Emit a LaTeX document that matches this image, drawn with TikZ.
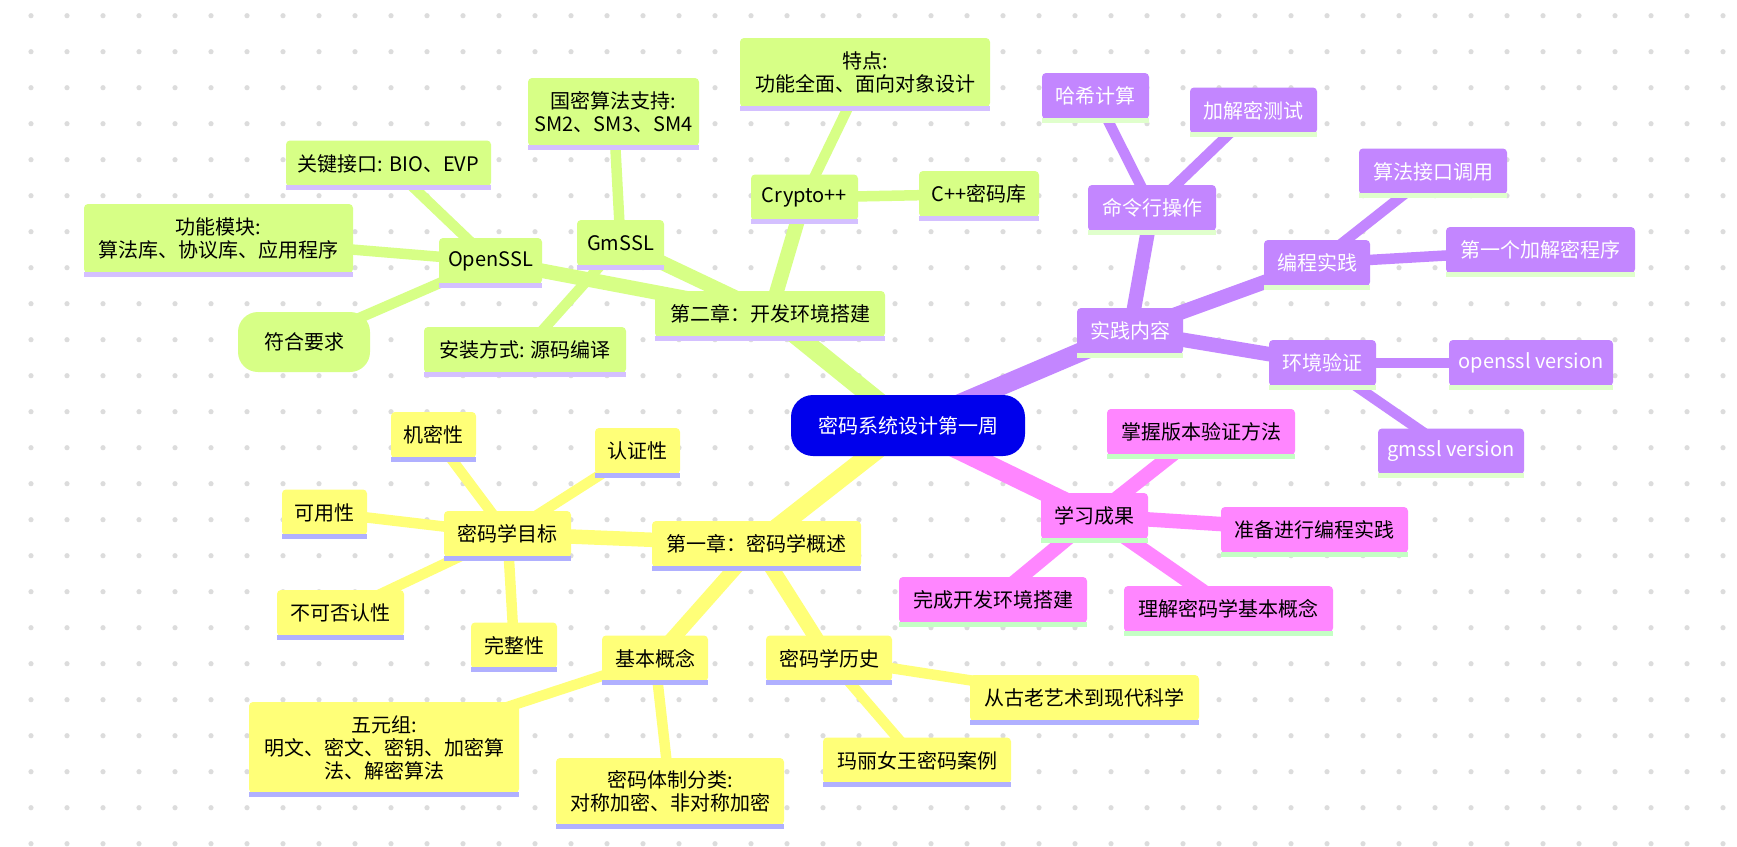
\documentclass[tikz,border=0pt]{standalone}
\usepackage{fontspec}
\newfontfamily\cjk{Noto Sans CJK SC}
\definecolor{cgreen}{HTML}{D7FF86}
\definecolor{cyellow}{HTML}{FFFF78}
\definecolor{cpurple}{HTML}{C386FF}
\definecolor{cpink}{HTML}{FF86FF}
\definecolor{cblue}{HTML}{0000EC}
\definecolor{ulgreen}{HTML}{D4C0FF}
\definecolor{ulyellow}{HTML}{B0B0FF}
\definecolor{ulpurple}{HTML}{E0FFCC}
\definecolor{ulpink}{HTML}{C4FFC4}
\definecolor{dotc}{HTML}{DCDCDC}
\pgfdeclarelayer{grid}
\pgfdeclarelayer{bg}
\pgfsetlayers{grid,bg,main}
\tikzset{
  mm/.style={rectangle, rounded corners=4pt, inner xsep=6pt, inner ysep=0pt,
    minimum height=46pt, align=center, font=\cjk\fontsize{20}{23}\selectfont},
  gn/.style={mm, fill=cgreen, text=black},
  yn/.style={mm, fill=cyellow, text=black},
  pn/.style={mm, fill=cpurple, text=white},
  kn/.style={mm, fill=cpink, text=black},
  rootnode/.style={mm, fill=cblue, text=white, rounded corners=22pt, minimum height=61pt},
  e0/.style={line width=19pt},
  e1/.style={line width=14.5pt},
  e2/.style={line width=10.5pt},
}
\newcommand{\ul}[2]{\fill[#2] ([yshift=1.5pt]#1.south west) rectangle ([yshift=-3.7pt]#1.south east);}
\begin{document}
\begin{tikzpicture}[x=1pt,y=-1pt]
\useasboundingbox (0,0) rectangle (1737,846);
\begin{pgfonlayer}{grid}
  \fill[white] (0,0) rectangle (1737,846);
  \foreach \i in {0,...,47} {
    \foreach \j in {0,...,23} {
      \fill[dotc] ({31+36*\i},{15.7+36*\j}) circle[radius=2.6pt];
    }
  }
\end{pgfonlayer}

% root
\node[rootnode, minimum width=234pt] (root) at (908,425.5) {密码系统设计第一周};

% chapter 2 (green)
\node[gn, minimum width=230pt] (ch2) at (770,314) {第二章：开发环境搭建};
\node[gn, minimum width=103pt] (ossl) at (490.5,261) {OpenSSL};
\node[gn, minimum width=87pt] (gmssl) at (620.5,243) {GmSSL};
\node[gn, minimum width=107pt] (cpp) at (804.5,197.5) {Crypto++};
\node[gn, minimum width=205pt] (key) at (388.5,163.5) {关键接口: BIO、EVP};
\node[gn, minimum width=269pt, minimum height=69pt] (func) at (218.5,238.5) {功能模块:\\算法库、协议库、应用程序};
\node[gn, minimum width=132pt, minimum height=60pt, rounded corners=20pt] (fit) at (304,342) {符合要求};
\node[gn, minimum width=171pt, minimum height=68pt] (gm) at (613.5,112) {国密算法支持:\\SM2、SM3、SM4};
\node[gn, minimum width=202pt] (inst) at (525,350) {安装方式: 源码编译};
\node[gn, minimum width=250pt, minimum height=69pt] (feat) at (865,72.5) {特点:\\功能全面、面向对象设计};
\node[gn, minimum width=120pt] (cpplib) at (979,194) {C++密码库};

% practice (purple)
\node[pn, minimum width=106pt] (prac) at (1130,331) {实践内容};
\node[pn, minimum width=128pt] (cli) at (1152,208) {命令行操作};
\node[pn, minimum width=107pt] (hash) at (1095.5,96) {哈希计算};
\node[pn, minimum width=127pt] (enct) at (1253.5,110.5) {加解密测试};
\node[pn, minimum width=106pt] (prog) at (1317,263) {编程实践};
\node[pn, minimum width=148pt] (api) at (1433,171.5) {算法接口调用};
\node[pn, minimum width=189pt] (first) at (1540.5,250) {第一个加解密程序};
\node[pn, minimum width=107pt] (env) at (1322.5,363) {环境验证};
\node[pn, minimum width=164pt] (osv) at (1531,363) {openssl version};
\node[pn, minimum width=146pt] (gsv) at (1451,451.5) {gmssl version};

% outcomes (pink)
\node[kn, minimum width=107pt] (learn) at (1094.5,516) {学习成果};
\node[kn, minimum width=188pt] (ver) at (1201,432) {掌握版本验证方法};
\node[kn, minimum width=187pt] (ready) at (1314.5,530) {准备进行编程实践};
\node[kn, minimum width=188pt] (done) at (993,600) {完成开发环境搭建};
\node[kn, minimum width=209pt] (under) at (1228.5,609) {理解密码学基本概念};

% chapter 1 (yellow)
\node[yn, minimum width=209pt] (ch1) at (756.5,544) {第一章：密码学概述};
\node[yn, minimum width=127pt] (goal) at (507.5,534) {密码学目标};
\node[yn, minimum width=85pt] (conf) at (433.5,435) {机密性};
\node[yn, minimum width=85pt] (auth) at (637.5,451) {认证性};
\node[yn, minimum width=85pt] (avail) at (324.5,512.5) {可用性};
\node[yn, minimum width=127pt] (nonrep) at (340.5,613) {不可否认性};
\node[yn, minimum width=86pt] (integ) at (514,645.5) {完整性};
\node[yn, minimum width=106pt] (basic) at (655,658.5) {基本概念};
\node[yn, minimum width=126pt] (hist) at (829,658.5) {密码学历史};
\node[yn, minimum width=270pt, minimum height=91pt] (five) at (384,747.5) {五元组:\\明文、密文、密钥、加密算\\法、解密算法};
\node[yn, minimum width=228pt, minimum height=67pt] (sys) at (670,791.5) {密码体制分类:\\对称加密、非对称加密};
\node[yn, minimum width=229pt] (art) at (1084.5,698) {从古老艺术到现代科学};
\node[yn, minimum width=188pt] (mary) at (917,760.5) {玛丽女王密码案例};

% underlines
\foreach \n in {ch2,ossl,gmssl,cpp,key,func,gm,inst,feat,cpplib} {\ul{\n}{ulgreen}}
\foreach \n in {ch1,goal,conf,auth,avail,nonrep,integ,basic,hist,five,sys,art,mary} {\ul{\n}{ulyellow}}
\foreach \n in {prac,cli,hash,enct,prog,api,first,env,osv,gsv} {\ul{\n}{ulpurple}}
\foreach \n in {learn,ver,ready,done,under} {\ul{\n}{ulpink}}

% edges
\begin{pgfonlayer}{bg}
  \draw[cgreen, e0] (root.center) -- (ch2.center);
  \draw[cyellow, e0] (root.center) -- (ch1.center);
  \draw[cpurple, e0] (root.center) -- (prac.center);
  \draw[cpink, e0] (root.center) -- (learn.center);

  \foreach \a/\b in {ch2/ossl, ch2/gmssl, ch2/cpp} {\draw[cgreen, e1] (\a.center) -- (\b.center);}
  \foreach \a/\b in {ossl/key, ossl/func, ossl/fit, gmssl/gm, gmssl/inst, cpp/feat, cpp/cpplib} {\draw[cgreen, e2] (\a.center) -- (\b.center);}

  \foreach \a/\b in {ch1/goal, ch1/basic, ch1/hist} {\draw[cyellow, e1] (\a.center) -- (\b.center);}
  \foreach \a/\b in {goal/conf, goal/auth, goal/avail, goal/nonrep, goal/integ, basic/five, basic/sys, hist/art, hist/mary} {\draw[cyellow, e2] (\a.center) -- (\b.center);}

  \foreach \a/\b in {prac/cli, prac/prog, prac/env} {\draw[cpurple, e1] (\a.center) -- (\b.center);}
  \foreach \a/\b in {cli/hash, cli/enct, prog/api, prog/first, env/osv, env/gsv} {\draw[cpurple, e2] (\a.center) -- (\b.center);}

  \foreach \a/\b in {learn/ver, learn/ready, learn/done, learn/under} {\draw[cpink, e1] (\a.center) -- (\b.center);}
\end{pgfonlayer}
\end{tikzpicture}
\end{document}
